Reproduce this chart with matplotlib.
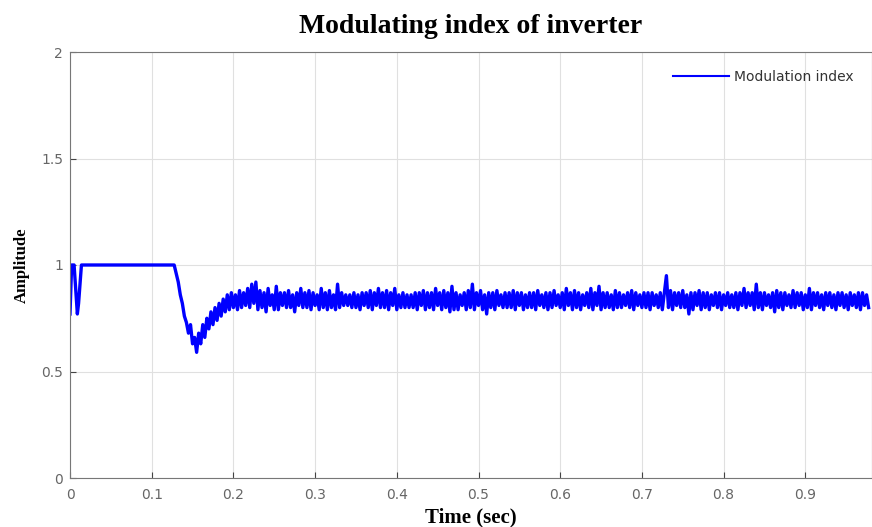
import numpy as np
import matplotlib
matplotlib.use("Agg")
import matplotlib.pyplot as plt

# Start-up segment (time, value)
t_start = [0.0, 0.002, 0.005, 0.009, 0.0105, 0.014, 0.1275]
v_start = [0.77, 1.0, 1.0, 0.77, 0.82, 1.0, 1.0]

# Sampled segment after the transient begins
t0 = 0.1275
dt = 0.0025
v_transient = [1.00, 0.96, 0.92, 0.86, 0.82, 0.76, 0.73, 0.68, 0.72, 0.63,
               0.66, 0.59, 0.68, 0.63, 0.72, 0.66, 0.75, 0.70, 0.78, 0.72,
               0.80, 0.74, 0.82, 0.76, 0.84, 0.78, 0.86, 0.79, 0.87, 0.80,
               0.86, 0.79, 0.88, 0.80, 0.87, 0.81, 0.89, 0.80, 0.91, 0.82,
               0.92]
v_steady = [
    0.79, 0.88, 0.80, 0.87, 0.78, 0.89, 0.81, 0.86, 0.79, 0.90, 0.79, 0.87, 0.81, 0.87, 0.80, 0.88, 0.80, 0.86, 0.78, 0.87,
    0.81, 0.89, 0.80, 0.87, 0.80, 0.88, 0.79, 0.87, 0.81, 0.86, 0.79, 0.89, 0.80, 0.87, 0.79, 0.88, 0.80, 0.86, 0.79, 0.91,
    0.80, 0.87, 0.81, 0.86, 0.81, 0.86, 0.80, 0.87, 0.80, 0.86, 0.79, 0.87, 0.81, 0.87, 0.80, 0.88, 0.79, 0.87, 0.81, 0.89,
    0.80, 0.87, 0.80, 0.88, 0.79, 0.87, 0.81, 0.89, 0.79, 0.86, 0.80, 0.87, 0.80, 0.86, 0.80, 0.86, 0.80, 0.87, 0.79, 0.87,
    0.81, 0.88, 0.79, 0.87, 0.80, 0.87, 0.79, 0.89, 0.81, 0.87, 0.79, 0.88, 0.80, 0.87, 0.78, 0.90, 0.79, 0.87, 0.79, 0.86,
    0.81, 0.87, 0.79, 0.88, 0.80, 0.91, 0.79, 0.87, 0.81, 0.88, 0.79, 0.86, 0.77, 0.87, 0.80, 0.87, 0.79, 0.88, 0.81, 0.86,
    0.80, 0.87, 0.80, 0.87, 0.80, 0.88, 0.79, 0.87, 0.81, 0.87, 0.79, 0.86, 0.80, 0.87, 0.80, 0.87, 0.79, 0.88, 0.81, 0.86,
    0.80, 0.87, 0.79, 0.87, 0.80, 0.88, 0.81, 0.86, 0.80, 0.87, 0.79, 0.89, 0.81, 0.87, 0.79, 0.88, 0.80, 0.87, 0.79, 0.86,
    0.81, 0.87, 0.80, 0.89, 0.79, 0.87, 0.81, 0.90, 0.79, 0.87, 0.80, 0.87, 0.80, 0.86, 0.79, 0.88, 0.80, 0.87, 0.80, 0.86,
    0.81, 0.87, 0.80, 0.88, 0.79, 0.87, 0.81, 0.86, 0.80, 0.87, 0.80, 0.87, 0.79, 0.87, 0.81, 0.86, 0.80, 0.87, 0.79, 0.87,
    0.95, 0.80, 0.88, 0.79, 0.87, 0.81, 0.87, 0.80, 0.88, 0.80, 0.86, 0.77, 0.87, 0.79, 0.87, 0.81, 0.88, 0.79, 0.87, 0.80,
    0.87, 0.79, 0.86, 0.81, 0.87, 0.80, 0.87, 0.79, 0.86, 0.81, 0.87, 0.80, 0.86, 0.80, 0.87, 0.79, 0.87, 0.81, 0.89, 0.80,
    0.87, 0.81, 0.87, 0.79, 0.91, 0.80, 0.87, 0.79, 0.87, 0.81, 0.86, 0.80, 0.87, 0.78, 0.88, 0.80, 0.87, 0.79, 0.87, 0.81,
    0.86, 0.80, 0.88, 0.80, 0.87, 0.81, 0.87, 0.79, 0.86, 0.80, 0.89, 0.79, 0.87, 0.81, 0.87, 0.80, 0.86, 0.79, 0.87, 0.81,
    0.87, 0.80, 0.86, 0.79, 0.87, 0.81, 0.87, 0.80, 0.86, 0.79, 0.87, 0.81, 0.86, 0.80, 0.87, 0.79, 0.87, 0.81, 0.86, 0.80,
]

x_ticks = [0, 0.1, 0.2, 0.3, 0.4, 0.5, 0.6, 0.7, 0.8, 0.9]
x_ticklabels = ["0", "0.1", "0.2", "0.3", "0.4", "0.5", "0.6", "0.7", "0.8", "0.9"]
y_ticks = [0, 0.5, 1, 1.5, 2]
y_ticklabels = ["0", "0.5", "1", "1.5", "2"]

v_samp = np.array(v_transient + v_steady)
t_samp = t0 + dt * np.arange(len(v_samp))
t = np.concatenate([t_start[:-1], t_samp])
v = np.concatenate([v_start[:-1], v_samp])

fig = plt.figure(figsize=(8.72, 5.27), dpi=100)
ax = fig.add_axes([70/872, 1 - 478/527, 1 - 70/872, (478 - 52)/527])

ax.plot(t, v, color="#0000ff", lw=2.4, label="Modulation index")
ax.set_xlim(0, (872 - 70) / 817 * 1.0)
ax.set_ylim(0, 2)
ax.set_xticks(x_ticks)
ax.set_xticklabels(x_ticklabels)
ax.set_yticks(y_ticks)
ax.set_yticklabels(y_ticklabels)
ax.grid(True, color="#e0e0e0", lw=0.8)
ax.tick_params(direction="in", length=4, labelsize=10, colors="#444444", labelcolor="#666666")
ax.tick_params(axis="x", pad=7)
ax.tick_params(axis="y", pad=5)
for s in ax.spines.values():
    s.set_color("#777777")
    s.set_linewidth(0.8)

ax.set_title("Modulating index of inverter", family="Liberation Serif",
             fontweight="bold", fontsize=20, pad=14)
ax.set_xlabel("Time (sec)", family="Liberation Serif", fontweight="bold",
              fontsize=15, labelpad=4)
ax.set_ylabel("Amplitude", family="Liberation Serif", fontweight="bold",
              fontsize=12, labelpad=8)
leg = ax.legend(loc="upper right", fontsize=10, frameon=False,
                handlelength=4.0, handletextpad=0.4, borderaxespad=0.9,
                labelcolor="#333333")
leg.get_lines()[0].set_linewidth(1.5)

fig.savefig("out.png", dpi=100)
